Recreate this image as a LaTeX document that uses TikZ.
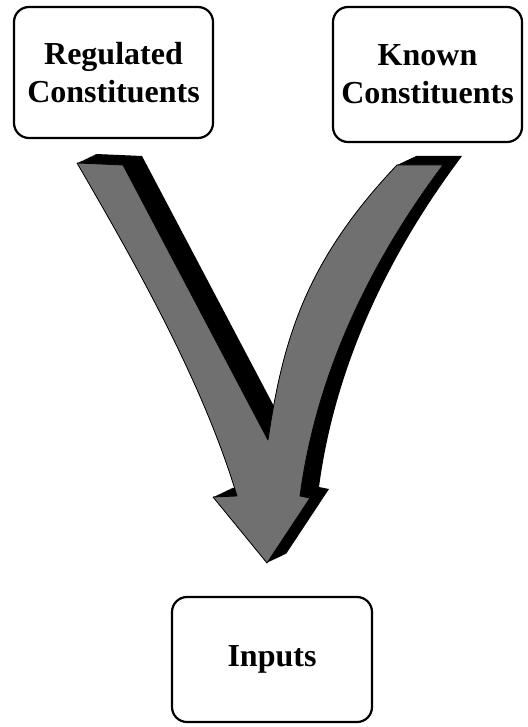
\documentclass[tikz,border=0pt]{standalone}
\usepackage{fontspec}
\setmainfont{Liberation Serif}
\definecolor{facegray}{RGB}{112,112,112}
\newcommand\arrowshape{(77,163) -- (123,165) -- (268,440) .. controls (283,340) and (305,262) .. (397,165) -- (443,165) .. controls (368,265) and (316,376) .. (300,496) -- (310,498) -- (267,563) -- (213,497) -- (237,496) .. controls (204,386) and (141,273) .. (77,163) -- cycle}
\tikzset{
  box/.style={draw=black, line width=2.2pt, rounded corners=15pt, fill=white,
    align=center, inner sep=0pt, font=\bfseries\fontsize{32}{38}\selectfont},
  extrude/.style={fill=black},
  face/.style={fill=facegray, draw=black, line width=0.8pt, line join=round}
}
\begin{document}
\begin{tikzpicture}[x=1pt, y=-1pt]
\useasboundingbox (0,0) rectangle (527,727);
% boxes
\node[box, minimum width=199pt, minimum height=131pt] (reg) at (113.5,72.5) {Regulated\\Constituents};
\node[box, minimum width=189pt, minimum height=135pt] (known) at (427.5,74.5) {Known\\Constituents};
\node[box, minimum width=200pt, minimum height=125pt] (inputs) at (272,659.5) {Inputs};
% 3D arrow: extrusion then front face
\foreach \t in {0,0.05,...,1.001} {
  \fill[extrude, shift={(19*\t,-9*\t)}] \arrowshape;
}
\path[face] \arrowshape;
\end{tikzpicture}
\end{document}
